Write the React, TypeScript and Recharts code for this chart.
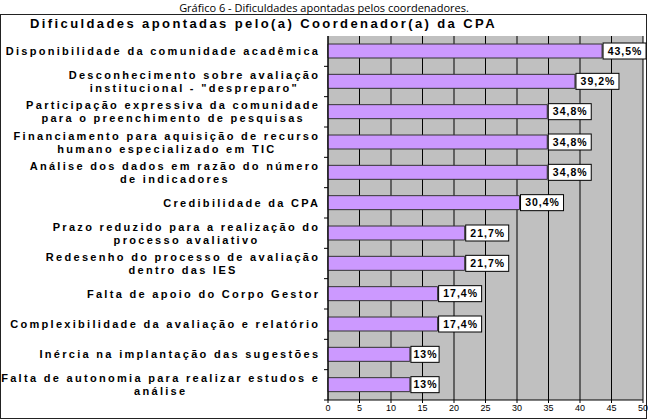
import { useLayoutEffect, useRef, useState } from "react";
import { BarChart, Bar, XAxis, YAxis, CartesianGrid, LabelList } from "recharts";

const categories = [
  "Disponibilidade da comunidade acadêmica",
  "Desconhecimento sobre avaliação\ninstitucional - \"despreparo\"",
  "Participação expressiva da comunidade\npara o preenchimento de pesquisas",
  "Financiamento para aquisição de recurso\nhumano especializado em TIC",
  "Análise dos dados em razão do número\nde indicadores",
  "Credibilidade da CPA",
  "Prazo reduzido para a realização do\nprocesso avaliativo",
  "Redesenho do processo de avaliação\ndentro das IES",
  "Falta de apoio do Corpo Gestor",
  "Complexibilidade da avaliação e relatório",
  "Inércia na implantação das sugestões",
  "Falta de autonomia para realizar estudos e\nanálise",
];
const values = [43.5, 39.2, 34.8, 34.8, 34.8, 30.4, 21.7, 21.7, 17.4, 17.4, 13, 13];
const valueLabels = ["43,5%", "39,2%", "34,8%", "34,8%", "34,8%", "30,4%", "21,7%", "21,7%", "17,4%", "17,4%", "13%", "13%"];
const xTicks = [0, 5, 10, 15, 20, 25, 30, 35, 40, 45, 50];

const data = categories.map((name, i) => ({ name, value: values[i], label: valueLabels[i] }));

const W = 648;
const H = 419;
const TOP = 36;
const BOTTOM_AXIS = 19;
const BAND = (H - TOP - BOTTOM_AXIS) / categories.length;

const font = "'Liberation Sans', Arial, sans-serif";
const TICK_SIZE = 11;
const TICK_SPACING = 2.3;

// first line is the longest one; the rest are centred under it
function CategoryTick(props: any) {
  const { x, y, payload } = props;
  const lines = String(payload.value).split("\n");
  const ref = useRef<SVGTextElement>(null);
  const [w, setW] = useState(0);
  useLayoutEffect(() => {
    if (ref.current) {
      const bw = ref.current.getBBox().width - TICK_SPACING;
      if (Math.abs(bw - w) > 0.5) setW(bw);
    }
  });
  const lh = 13;
  const y0 = y - ((lines.length - 1) * lh) / 2;
  const right = x - 2;
  const common = {
    fontFamily: font,
    fontWeight: "bold",
    fontSize: TICK_SIZE,
    letterSpacing: TICK_SPACING,
    fill: "#000",
    dy: "0.35em",
  };
  return (
    <g>
      <line x1={x + 4} x2={x + 8} y1={y + BAND / 2} y2={y + BAND / 2} stroke="#000" />
      <text ref={ref} x={right - w} y={y0} textAnchor="start" {...common}>
        {lines[0]}
      </text>
      {lines.slice(1).map((l, i) => (
        <text key={i} x={right - w / 2 + TICK_SPACING / 2} y={y0 + (i + 1) * lh} textAnchor="middle" {...common}>
          {l}
        </text>
      ))}
    </g>
  );
}

function ValueBox(props: any) {
  const { x, y, width, height, value } = props;
  const txt = String(value);
  const bw = txt.length * 7.4 + 6;
  const bh = 16;
  const bx = x + width + 1;
  const cy = y + height / 2;
  return (
    <g>
      <rect x={bx} y={cy - bh / 2} width={bw} height={bh} fill="#fff" stroke="#000" strokeWidth={1} />
      <text
        x={bx + bw / 2 + 0.5}
        y={cy}
        dy="0.36em"
        textAnchor="middle"
        fontFamily={font}
        fontWeight="bold"
        fontSize={10.5}
        letterSpacing={1}
        fill="#000"
      >
        {txt}
      </text>
    </g>
  );
}

export default function App() {
  return (
    <div style={{ position: "absolute", left: 0, top: 0, width: W, height: H, background: "#fff", overflow: "hidden" }}>
      <div
        style={{
          position: "absolute",
          left: 0,
          top: 0,
          width: W,
          textAlign: "center",
          fontFamily: "'Open Sans', sans-serif",
          fontSize: 11,
          lineHeight: "15px",
          color: "#000",
        }}
      >
        Gráfico 6 - Dificuldades apontadas pelos coordenadores.
      </div>
      <div
        style={{
          position: "absolute",
          left: 0,
          top: 14,
          width: W - 3,
          height: H - 16,
          border: "1px solid #222",
        }}
      />
      <div
        style={{
          position: "absolute",
          left: 30,
          top: 16,
          fontFamily: font,
          fontWeight: "bold",
          fontSize: 13,
          lineHeight: "16px",
          letterSpacing: 2.4,
          color: "#000",
          whiteSpace: "nowrap",
        }}
      >
        Dificuldades apontadas pelo(a) Coordenador(a) da CPA
      </div>
      <div style={{ position: "absolute", left: 0, top: 0 }}>
        <BarChart
          width={W}
          height={H}
          data={data}
          layout="vertical"
          margin={{ top: TOP, right: 5, bottom: 0, left: 0 }}
          barSize={14}
        >
          <CartesianGrid horizontal={false} vertical stroke="#000" fill="#c0c0c0" fillOpacity={1} />
          <XAxis
            type="number"
            domain={[0, 50]}
            ticks={xTicks}
            height={BOTTOM_AXIS}
            axisLine={{ stroke: "#000" }}
            tickLine={{ stroke: "#000" }}
            tickSize={3}
            tick={{ fill: "#000", fontSize: 9, fontFamily: font }}
            interval={0}
          />
          <YAxis
            type="category"
            dataKey="name"
            width={328}
            axisLine={{ stroke: "#000" }}
            tickLine={false}
            tick={(p: any) => <CategoryTick {...p} />}
            interval={0}
          />
          <Bar dataKey="value" fill="#cc99ff" stroke="#333" strokeWidth={1} isAnimationActive={false}>
            <LabelList dataKey="label" content={<ValueBox />} />
          </Bar>
        </BarChart>
      </div>
    </div>
  );
}
